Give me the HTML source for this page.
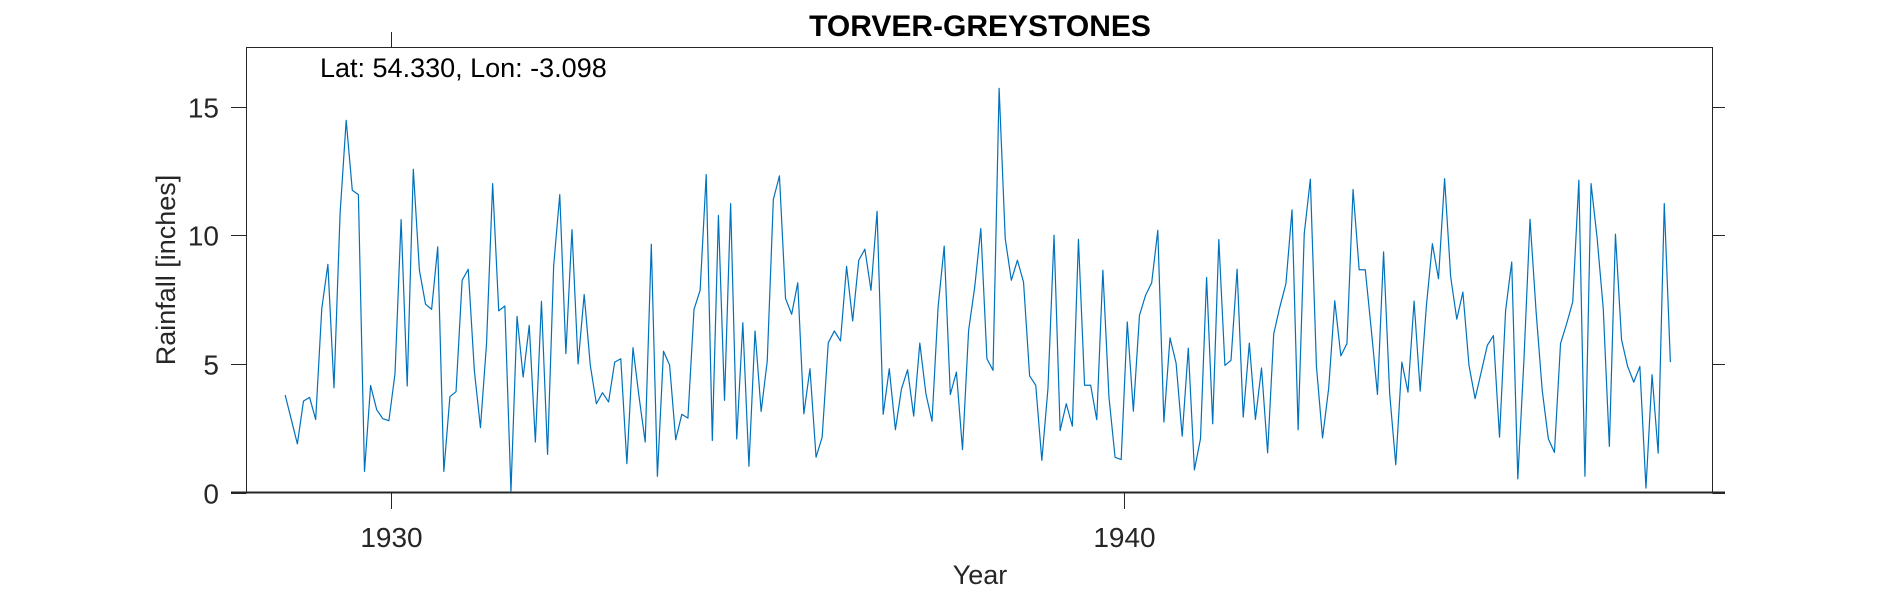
<!DOCTYPE html>
<html><head><meta charset="utf-8"><style>
html,body{margin:0;padding:0;background:#fff;}
svg{display:block;font-family:"Liberation Sans",sans-serif;}
</style></head><body>
<svg id="chart" width="1890" height="591" viewBox="0 0 1890 591">
<rect x="0" y="0" width="1890" height="591" fill="#fff"/>
<g id="axes"></g>
<path id="series" fill="none" stroke="#0072BD" stroke-width="1.2" stroke-linejoin="round"/>
<text x="980" y="36" text-anchor="middle" font-size="30" font-weight="bold" fill="#000">TORVER-GREYSTONES</text>
<text x="320" y="77" font-size="27" fill="#000">Lat: 54.330, Lon: -3.098</text>
<text x="980" y="584" text-anchor="middle" font-size="27" fill="#262626">Year</text>
<text transform="translate(175,270) rotate(-90)" text-anchor="middle" font-size="27" fill="#262626">Rainfall [inches]</text>
</svg>
<script>
const startYear = 1928.548;
const rainfall = [3.79,2.84,1.89,3.55,3.70,2.84,7.15,8.87,4.07,10.84,14.47,11.75,11.58,0.82,4.16,3.22,2.87,2.79,4.62,10.61,4.14,12.57,8.64,7.32,7.12,9.55,0.82,3.73,3.92,8.25,8.68,4.75,2.52,5.79,12.01,7.06,7.25,0.04,6.85,4.49,6.50,1.96,7.43,1.48,8.81,11.58,5.40,10.22,5.00,7.70,4.95,3.45,3.88,3.52,5.07,5.20,1.12,5.63,3.71,1.96,9.65,0.63,5.49,4.95,2.05,3.04,2.89,7.12,7.86,12.36,2.02,10.77,3.58,11.23,2.08,6.60,1.02,6.28,3.15,5.11,11.39,12.31,7.54,6.93,8.15,3.06,4.81,1.37,2.15,5.82,6.28,5.89,8.79,6.67,9.03,9.46,7.86,10.93,3.04,4.81,2.44,4.03,4.77,2.97,5.81,3.84,2.77,7.21,9.58,3.81,4.68,1.67,6.30,7.99,10.26,5.20,4.75,15.71,9.87,8.25,9.03,8.18,4.53,4.17,1.25,4.03,10.0,2.41,3.45,2.58,9.84,4.17,4.17,2.83,8.64,3.71,1.37,1.28,6.63,3.16,6.89,7.67,8.15,10.19,2.74,6.01,5.03,2.19,5.61,0.88,2.09,8.36,2.67,9.83,4.94,5.14,8.68,2.93,5.81,2.84,4.84,1.54,6.17,7.21,8.12,10.99,2.44,10.06,12.18,4.90,2.12,4.04,7.45,5.31,5.79,11.78,8.66,8.66,6.30,3.81,9.35,3.84,1.08,5.07,3.90,7.44,3.94,7.21,9.67,8.31,12.20,8.38,6.74,7.79,4.94,3.65,4.68,5.72,6.10,2.15,7.08,8.96,0.53,5.14,10.62,7.02,3.97,2.09,1.56,5.79,6.56,7.41,12.14,0.63,12.01,9.88,7.15,1.79,10.04,5.94,4.90,4.29,4.90,0.17,4.58,1.53,11.23,5.07];
const xTicks = [1930, 1940];
const xTickLabels = ["1930", "1940"];
const yTicks = [0, 5, 10, 15];
const yTickLabels = ["0", "5", "10", "15"];

const L = 246.5, R = 1712.5, T = 47.5, B = 492.5;
const xMin = 1928.02, xMax = 1948.04, yMin = 0, yMax = 17.3;
function xs(v){ return L + (v - xMin) / (xMax - xMin) * (R - L); }
function ys(v){ return B - (v - yMin) / (yMax - yMin) * (B - T); }
const NS = "http://www.w3.org/2000/svg";
const axes = document.getElementById('axes');
function mk(tag, attrs){ const e = document.createElementNS(NS, tag); for (const k in attrs) e.setAttribute(k, attrs[k]); axes.appendChild(e); return e; }

const box = mk('rect', {x:L, y:T, width:R-L, height:B-T, fill:'none', stroke:'#262626', 'stroke-width':1});


const xl = mk('line', {x1:231, x2:1725, y1:B, y2:B, stroke:'#262626', 'stroke-width':2});



xTicks.forEach((t, i) => {
  const x = Math.round(xs(t)) + 0.5;
  const tb = mk('line', {x1:x, x2:x, y1:B, y2:509, stroke:'#262626', 'stroke-width':1});
  
  
  if (i === 0) {
    const tt = mk('line', {x1:x, x2:x, y1:32, y2:T, stroke:'#262626', 'stroke-width':1});
    
    
  }
  const lb = mk('text', {x:x, y:547, 'text-anchor':'middle', 'font-size':28, fill:'#262626'});
  lb.textContent = xTickLabels[i];
  
  
});
yTicks.forEach((t, i) => {
  const y = Math.round(ys(t)) + 0.5;
  const tl = mk('line', {x1:231, x2:L, y1:y, y2:y, stroke:'#262626', 'stroke-width':1});
  
  
  const tr = mk('line', {x1:R, x2:1725, y1:y, y2:y, stroke:'#262626', 'stroke-width':1});
  
  
  const lb = mk('text', {x:219, y:y + 10, 'text-anchor':'end', 'font-size':28, fill:'#262626'});
  lb.textContent = yTickLabels[i];
  
  
});

let d = '';
rainfall.forEach((v, i) => {
  const x = xs(startYear + i / 12), y = ys(v);
  d += (i ? 'L' : 'M') + x.toFixed(2) + ' ' + y.toFixed(2);
});
document.getElementById('series').setAttribute('d', d);
</script>
</body></html>
